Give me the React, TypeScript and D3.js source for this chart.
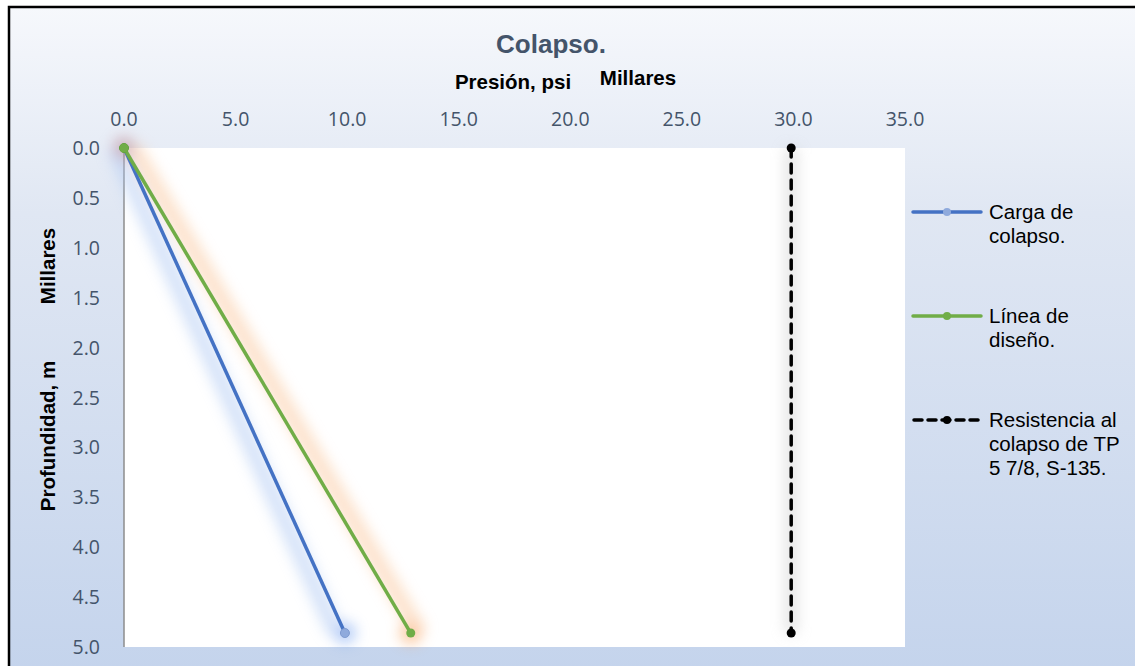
import React from "react";
import * as d3 from "d3";

const xTicks = [0, 5, 10, 15, 20, 25, 30, 35];
const yTicks = [0, 0.5, 1, 1.5, 2, 2.5, 3, 3.5, 4, 4.5, 5];
const cargaX = [0, 9.9];
const cargaY = [0, 4.86];
const disenoX = [0, 12.85];
const disenoY = [0, 4.86];
const resistX = [29.9, 29.9];
const resistY = [0, 4.86];

export default function App() {
  const W = 1135, H = 666;
  const x = d3.scaleLinear().domain([0, 35]).range([124, 905]);
  const y = d3.scaleLinear().domain([0, 5]).range([148, 647]);
  const line = d3.line<[number, number]>().x(d => x(d[0])).y(d => y(d[1]));
  const pts = (xs: number[], ys: number[]) => xs.map((v, i) => [v, ys[i]] as [number, number]);
  const carga = pts(cargaX, cargaY);
  const diseno = pts(disenoX, disenoY);
  const resist = pts(resistX, resistY);
  const tickFont = "'Open Sans', 'DejaVu Sans', sans-serif";
  const arial = "'Liberation Sans', Arial, sans-serif";
  return (
    <svg width={W} height={H} style={{ position: "absolute", left: 0, top: 0 }}>
      <defs>
        <linearGradient id="bg" x1="0" y1="0" x2="0" y2="1">
          <stop offset="0" stopColor="#f6f8fc" />
          <stop offset="0.3" stopColor="#e0e7f3" />
          <stop offset="1" stopColor="#c3d3ec" />
        </linearGradient>
        <filter id="glow" x="-50%" y="-50%" width="200%" height="200%">
          <feGaussianBlur stdDeviation="7" />
        </filter>
      </defs>
      <rect x={0} y={0} width={W} height={H} fill="#fff" />
      <rect x={9} y={7} width={W + 20} height={H + 20} fill="url(#bg)" stroke="#000" strokeWidth={2.5} />
      <rect x={x(0)} y={y(0)} width={x(35) - x(0)} height={y(5) - y(0)} fill="#fff" />
      <line x1={x(0)} x2={x(0)} y1={y(0)} y2={y(5)} stroke="#8c8c8c" strokeWidth={1.5} />
      {/* glows */}
      <g filter="url(#glow)" opacity={0.5}>
        <path d={line(carga.map(p => [p[0] - 0.4, p[1]] as [number, number]))!} stroke="#a9c5f2" strokeWidth={16} fill="none" />
        <path d={line(diseno.map(p => [p[0] + 0.4, p[1]] as [number, number]))!} stroke="#f9c395" strokeWidth={16} fill="none" />
        <path d={line(resist)!} stroke="#c4c4c4" strokeWidth={12} fill="none" />
        <circle cx={x(0)} cy={y(0)} r={11} fill="#b57a85" />
        <circle cx={x(cargaX[1])} cy={y(cargaY[1])} r={11} fill="#6f9ef0" />
        <circle cx={x(disenoX[1])} cy={y(disenoY[1])} r={11} fill="#f89a4e" />
      </g>
      <path d={line(carga)!} stroke="#4472c4" strokeWidth={3.5} fill="none" />
      <path d={line(diseno)!} stroke="#70ad47" strokeWidth={3.5} fill="none" />
      <path d={line(resist)!} stroke="#000" strokeWidth={3.5} fill="none" strokeDasharray="9 7" strokeLinecap="round" />
      {carga.map((p, i) => <circle key={"c" + i} cx={x(p[0])} cy={y(p[1])} r={4.5} fill={i === 0 ? "#70ad47" : "#8faadc"} stroke={i === 0 ? "#5a9a3a" : "#7f9bd0"} />)}
      {diseno.map((p, i) => <circle key={"d" + i} cx={x(p[0])} cy={y(p[1])} r={4.5} fill="#70ad47" />)}
      {resist.map((p, i) => <circle key={"r" + i} cx={x(p[0])} cy={y(p[1])} r={4.5} fill="#000" />)}
      {/* x ticks */}
      {xTicks.map(t => (
        <text key={"x" + t} x={x(t)} y={126} textAnchor="middle" fontFamily={tickFont} fontSize={19.5} fill="#44546a">{d3.format(".1f")(t)}</text>
      ))}
      {yTicks.map(t => (
        <text key={"y" + t} x={100} y={y(t) + 7} textAnchor="end" fontFamily={tickFont} fontSize={19.5} fill="#44546a">{d3.format(".1f")(t)}</text>
      ))}
      <text x={551} y={53} textAnchor="middle" fontFamily={arial} fontWeight="bold" fontSize={26} fill="#44546a">Colapso.</text>
      <text x={513} y={89} textAnchor="middle" fontFamily={arial} fontWeight="bold" fontSize={20.5} fill="#000">Presión, psi</text>
      <text x={638} y={85} textAnchor="middle" fontFamily={arial} fontWeight="bold" fontSize={20.5} fill="#000">Millares</text>
      <text transform="translate(55,266) rotate(-90)" textAnchor="middle" fontFamily={arial} fontWeight="bold" fontSize={20.5} fill="#000">Millares</text>
      <text transform="translate(55,436) rotate(-90)" textAnchor="middle" fontFamily={arial} fontWeight="bold" fontSize={20.5} fill="#000">Profundidad, m</text>
      {/* legend */}
      <g fontFamily={arial} fontSize={20.5} fill="#000">
        <line x1={913} x2={981} y1={212} y2={212} stroke="#4472c4" strokeWidth={3.5} strokeLinecap="round" />
        <circle cx={947} cy={212} r={4} fill="#8faadc" />
        <text x={989} y={219}>Carga de</text>
        <text x={989} y={243}>colapso.</text>
        <line x1={913} x2={981} y1={316} y2={316} stroke="#70ad47" strokeWidth={3.5} strokeLinecap="round" />
        <circle cx={947} cy={316} r={4} fill="#70ad47" />
        <text x={989} y={323}>Línea de</text>
        <text x={989} y={347}>diseño.</text>
        <line x1={914} x2={978} y1={420} y2={420} stroke="#000" strokeWidth={3.5} strokeDasharray="8 6" strokeLinecap="round" />
        <circle cx={947} cy={420} r={4} fill="#000" />
        <text x={989} y={427}>Resistencia al</text>
        <text x={989} y={451}>colapso de TP</text>
        <text x={989} y={475}>5 7/8, S-135.</text>
      </g>
    </svg>
  );
}
